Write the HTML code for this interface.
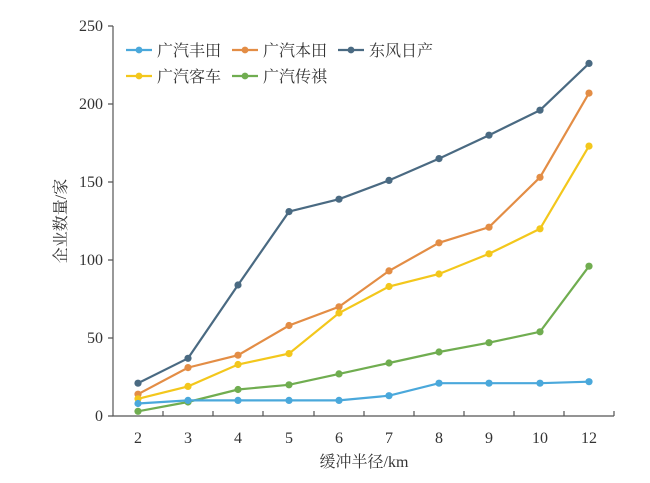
<!DOCTYPE html>
<html><head><meta charset="utf-8"><style>
body{margin:0;background:#fff}
text{font-family:"Liberation Serif","Noto Serif CJK SC",serif;fill:#333}
</style></head><body>
<svg width="650" height="478" viewBox="0 0 650 478">
<g stroke="#555" stroke-width="1.2" fill="none">
<path d="M113,26V416H614"/>
<path d="M108,26H113M108,104H113M108,182H113M108,260H113M108,338H113M108,416H113"/>
<path d="M163,416v-5M213,416v-5M263,416v-5M314,416v-5M364,416v-5M414,416v-5M464,416v-5M514,416v-5M564,416v-5M614,416v-5"/>
</g>
<g font-size="16" text-anchor="end">
<text x="103" y="31">250</text><text x="103" y="109">200</text><text x="103" y="187">150</text>
<text x="103" y="265">100</text><text x="103" y="343">50</text><text x="103" y="421">0</text>
</g>
<g font-size="16" text-anchor="middle">
<text x="138" y="443">2</text><text x="188" y="443">3</text><text x="238" y="443">4</text><text x="289" y="443">5</text>
<text x="339" y="443">6</text><text x="389" y="443">7</text><text x="439" y="443">8</text><text x="489" y="443">9</text>
<text x="540" y="443">10</text><text x="589" y="443">12</text>
<text x="364" y="467" font-size="16">缓冲半径/km</text>
</g>
<text transform="translate(66,221) rotate(-90)" font-size="16" text-anchor="middle">企业数量/家</text>
<g fill="none" stroke-width="2.2">
<polyline stroke="#4a6a82" points="138,383.2 188,358.3 238,285 289,211.6 339,199.2 389,180.4 439,158.6 489,135.2 540,110.2 589,63.4"/>
<polyline stroke="#e38d45" points="138,394.2 188,367.6 238,355.2 289,325.5 339,306.8 389,270.9 439,242.8 489,227.2 540,177.3 589,93.1"/>
<polyline stroke="#f3c71c" points="138,398.8 188,386.4 238,364.5 289,353.6 339,313 389,286.5 439,274 489,253.8 540,228.8 589,146.1"/>
<polyline stroke="#70ad50" points="138,411.3 188,402 238,389.5 289,384.8 339,373.9 389,363 439,352 489,342.7 540,331.8 589,266.2"/>
<polyline stroke="#4aa8db" points="138,403.5 188,400.4 238,400.4 289,400.4 339,400.4 389,395.7 439,383.2 489,383.2 540,383.2 589,381.7"/>
</g>
<g fill="#4a6a82"><circle cx="138" cy="383.2" r="3.6"/><circle cx="188" cy="358.3" r="3.6"/><circle cx="238" cy="285" r="3.6"/><circle cx="289" cy="211.6" r="3.6"/><circle cx="339" cy="199.2" r="3.6"/><circle cx="389" cy="180.4" r="3.6"/><circle cx="439" cy="158.6" r="3.6"/><circle cx="489" cy="135.2" r="3.6"/><circle cx="540" cy="110.2" r="3.6"/><circle cx="589" cy="63.4" r="3.6"/></g>
<g fill="#e38d45"><circle cx="138" cy="394.2" r="3.6"/><circle cx="188" cy="367.6" r="3.6"/><circle cx="238" cy="355.2" r="3.6"/><circle cx="289" cy="325.5" r="3.6"/><circle cx="339" cy="306.8" r="3.6"/><circle cx="389" cy="270.9" r="3.6"/><circle cx="439" cy="242.8" r="3.6"/><circle cx="489" cy="227.2" r="3.6"/><circle cx="540" cy="177.3" r="3.6"/><circle cx="589" cy="93.1" r="3.6"/></g>
<g fill="#f3c71c"><circle cx="138" cy="398.8" r="3.6"/><circle cx="188" cy="386.4" r="3.6"/><circle cx="238" cy="364.5" r="3.6"/><circle cx="289" cy="353.6" r="3.6"/><circle cx="339" cy="313" r="3.6"/><circle cx="389" cy="286.5" r="3.6"/><circle cx="439" cy="274" r="3.6"/><circle cx="489" cy="253.8" r="3.6"/><circle cx="540" cy="228.8" r="3.6"/><circle cx="589" cy="146.1" r="3.6"/></g>
<g fill="#70ad50"><circle cx="138" cy="411.3" r="3.6"/><circle cx="188" cy="402" r="3.6"/><circle cx="238" cy="389.5" r="3.6"/><circle cx="289" cy="384.8" r="3.6"/><circle cx="339" cy="373.9" r="3.6"/><circle cx="389" cy="363" r="3.6"/><circle cx="439" cy="352" r="3.6"/><circle cx="489" cy="342.7" r="3.6"/><circle cx="540" cy="331.8" r="3.6"/><circle cx="589" cy="266.2" r="3.6"/></g>
<g fill="#4aa8db"><circle cx="138" cy="403.5" r="3.6"/><circle cx="188" cy="400.4" r="3.6"/><circle cx="238" cy="400.4" r="3.6"/><circle cx="289" cy="400.4" r="3.6"/><circle cx="339" cy="400.4" r="3.6"/><circle cx="389" cy="395.7" r="3.6"/><circle cx="439" cy="383.2" r="3.6"/><circle cx="489" cy="383.2" r="3.6"/><circle cx="540" cy="383.2" r="3.6"/><circle cx="589" cy="381.7" r="3.6"/></g>
<g stroke-width="2.2">
<line x1="126" y1="50" x2="152" y2="50" stroke="#4aa8db"/><circle cx="139" cy="50" r="3.4" fill="#4aa8db"/>
<line x1="232" y1="50" x2="258" y2="50" stroke="#e38d45"/><circle cx="245" cy="50" r="3.4" fill="#e38d45"/>
<line x1="338" y1="50" x2="364" y2="50" stroke="#4a6a82"/><circle cx="351" cy="50" r="3.4" fill="#4a6a82"/>
<line x1="126" y1="76" x2="152" y2="76" stroke="#f3c71c"/><circle cx="139" cy="76" r="3.4" fill="#f3c71c"/>
<line x1="232" y1="76" x2="258" y2="76" stroke="#70ad50"/><circle cx="245" cy="76" r="3.4" fill="#70ad50"/>
</g>
<g font-size="16">
<text x="157" y="56">广汽丰田</text><text x="263" y="56">广汽本田</text><text x="369" y="56">东风日产</text>
<text x="157" y="82">广汽客车</text><text x="263" y="82">广汽传祺</text>
</g>
</svg>
</body></html>
